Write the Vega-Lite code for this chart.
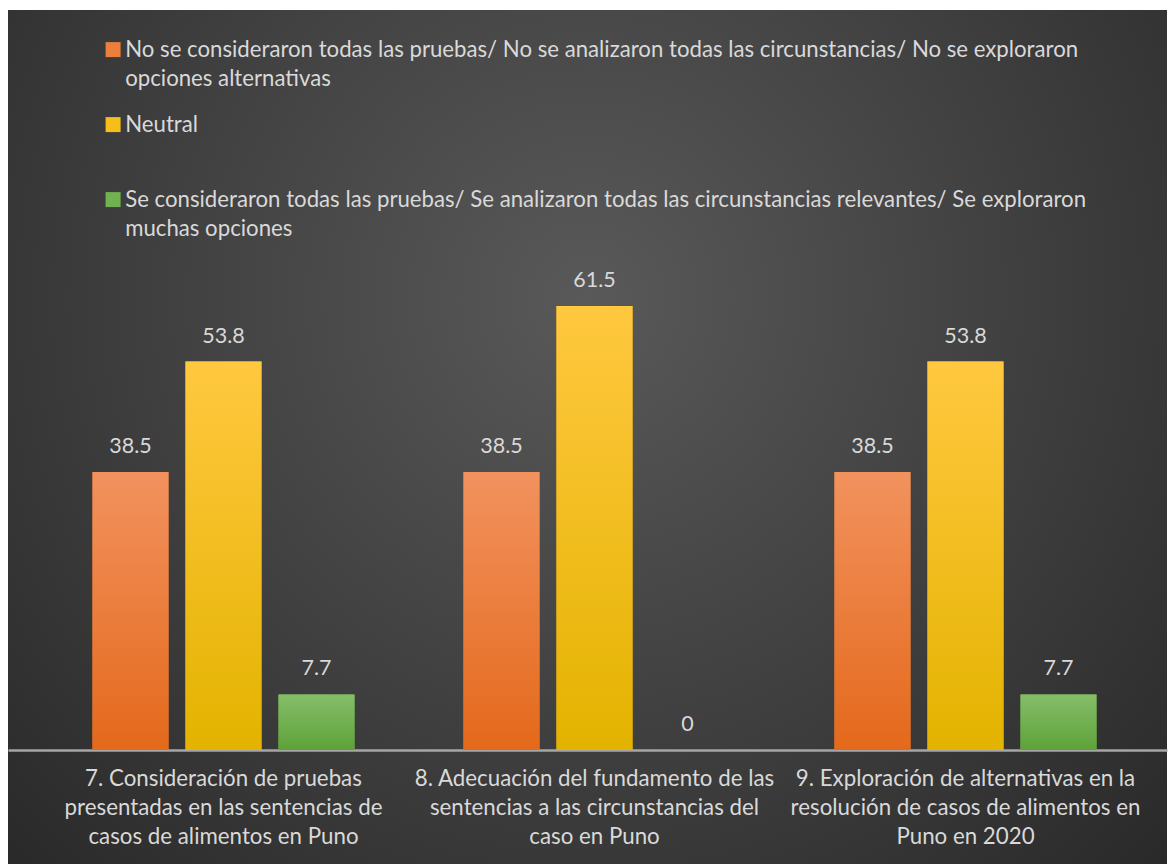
{
  "$schema": "https://vega.github.io/schema/vega-lite/v6.json",
  "width": 1159,
  "height": 854,
  "autosize": {"type": "none"},
  "padding": {"left": 8, "top": 10, "right": 2, "bottom": 0},
  "background": "#FFFFFF",
  "config": {
    "view": {
      "stroke": null,
      "fill": {
        "gradient": "radial",
        "x1": 0.5, "y1": 0.38, "r1": 0,
        "x2": 0.5, "y2": 0.38, "r2": 0.75,
        "stops": [
          {"offset": 0, "color": "#595959"},
          {"offset": 1, "color": "#262626"}
        ]
      }
    }
  },
  "data": {
    "values": [
      {"cat": "7. Consideración de pruebas presentadas en las sentencias de casos de alimentos en Puno", "serie": "No se consideraron todas las pruebas/ No se analizaron todas las circunstancias/ No se exploraron opciones alternativas", "valor": 38.5},
      {"cat": "7. Consideración de pruebas presentadas en las sentencias de casos de alimentos en Puno", "serie": "Neutral", "valor": 53.8},
      {"cat": "7. Consideración de pruebas presentadas en las sentencias de casos de alimentos en Puno", "serie": "Se consideraron todas las pruebas/ Se analizaron todas las circunstancias relevantes/ Se exploraron muchas opciones", "valor": 7.7},
      {"cat": "8. Adecuación del fundamento de las sentencias a las circunstancias del caso en Puno", "serie": "No se consideraron todas las pruebas/ No se analizaron todas las circunstancias/ No se exploraron opciones alternativas", "valor": 38.5},
      {"cat": "8. Adecuación del fundamento de las sentencias a las circunstancias del caso en Puno", "serie": "Neutral", "valor": 61.5},
      {"cat": "8. Adecuación del fundamento de las sentencias a las circunstancias del caso en Puno", "serie": "Se consideraron todas las pruebas/ Se analizaron todas las circunstancias relevantes/ Se exploraron muchas opciones", "valor": 0},
      {"cat": "9. Exploración de alternativas en la resolución de casos de alimentos en Puno en 2020", "serie": "No se consideraron todas las pruebas/ No se analizaron todas las circunstancias/ No se exploraron opciones alternativas", "valor": 38.5},
      {"cat": "9. Exploración de alternativas en la resolución de casos de alimentos en Puno en 2020", "serie": "Neutral", "valor": 53.8},
      {"cat": "9. Exploración de alternativas en la resolución de casos de alimentos en Puno en 2020", "serie": "Se consideraron todas las pruebas/ Se analizaron todas las circunstancias relevantes/ Se exploraron muchas opciones", "valor": 7.7}
    ]
  },
  "layer": [
    {
      "mark": {"type": "bar"},
      "encoding": {
        "x": {
          "field": "cat",
          "type": "nominal",
          "sort": null,
          "scale": {"paddingInner": 0, "paddingOuter": 0.062, "align": 0.652},
          "axis": {
            "title": null,
            "domain": true,
            "domainColor": "#A6A6A6",
            "domainWidth": 2.5,
            "ticks": false,
            "labelAngle": 0,
            "labelFont": "Lato",
            "labelFontSize": 22.3,
            "labelColor": "#D9D9D9",
            "labelLineHeight": 29,
            "labelBaseline": "top",
            "labelPadding": 17,
            "labelLimit": 400,
            "labelOverlap": false,
            "offset": -114,
            "labelExpr": "slice(datum.value,0,2) == '7.' ? ['7. Consideración de pruebas', 'presentadas en las sentencias de', 'casos de alimentos en Puno'] : slice(datum.value,0,2) == '8.' ? ['8. Adecuación del fundamento de las', 'sentencias a las circunstancias del', 'caso en Puno'] : ['9. Exploración de alternativas en la', 'resolución de casos de alimentos en', 'Puno en 2020']"
          }
        },
        "xOffset": {
          "field": "serie",
          "type": "nominal",
          "sort": null,
          "scale": {"paddingInner": 0.183, "paddingOuter": 0.586}
        },
        "y": {
          "field": "valor",
          "type": "quantitative",
          "scale": {"domain": [-15.79, 102.49], "nice": false, "zero": false},
          "axis": null
        },
        "color": {
          "field": "serie",
          "type": "nominal",
          "sort": null,
          "scale": {"range": ["#EC7F3C", "#F5BE1A", "#72B14F"]},
          "legend": {
            "title": null,
            "orient": "none",
            "legendX": 94,
            "legendY": 28.5,
            "padding": 0,
            "symbolType": "square",
            "symbolSize": 225,
            "symbolStrokeWidth": 0,
            "labelFont": "Lato",
            "labelFontSize": 22.2,
            "labelColor": "#D9D9D9",
            "labelLimit": 1100,
            "labelOffset": 1,
            "labelBaseline": "middle",
            "rowPadding": 23,
            "labelExpr": "datum.label == 'Neutral' ? ['Neutral', ''] : [slice(datum.label, 0, indexof(datum.label, 'exploraron ') + 10), slice(datum.label, indexof(datum.label, 'exploraron ') + 11)]",
            "encoding": {"labels": {"lineHeight": {"value": 29}}}
          }
        }
      }
    },
    {
      "transform": [{"filter": "datum.serie == 'No se consideraron todas las pruebas/ No se analizaron todas las circunstancias/ No se exploraron opciones alternativas'"}],
      "mark": {
        "type": "bar",
        "color": {"gradient": "linear", "x1": 0, "y1": 0, "x2": 0, "y2": 1, "stops": [{"offset": 0, "color": "#F2925E"}, {"offset": 1, "color": "#E4691B"}]}
      },
      "encoding": {
        "x": {"field": "cat", "type": "nominal", "sort": null},
        "xOffset": {"field": "serie", "type": "nominal", "sort": null},
        "y": {"field": "valor", "type": "quantitative"}
      }
    },
    {
      "transform": [{"filter": "datum.serie == 'Neutral'"}],
      "mark": {
        "type": "bar",
        "color": {"gradient": "linear", "x1": 0, "y1": 0, "x2": 0, "y2": 1, "stops": [{"offset": 0, "color": "#FFC83F"}, {"offset": 1, "color": "#E3B300"}]}
      },
      "encoding": {
        "x": {"field": "cat", "type": "nominal", "sort": null},
        "xOffset": {"field": "serie", "type": "nominal", "sort": null},
        "y": {"field": "valor", "type": "quantitative"}
      }
    },
    {
      "transform": [{"filter": "datum.serie == 'Se consideraron todas las pruebas/ Se analizaron todas las circunstancias relevantes/ Se exploraron muchas opciones'"}],
      "mark": {
        "type": "bar",
        "color": {"gradient": "linear", "x1": 0, "y1": 0, "x2": 0, "y2": 1, "stops": [{"offset": 0, "color": "#86BD6A"}, {"offset": 1, "color": "#5EA238"}]}
      },
      "encoding": {
        "x": {"field": "cat", "type": "nominal", "sort": null},
        "xOffset": {"field": "serie", "type": "nominal", "sort": null},
        "y": {"field": "valor", "type": "quantitative"}
      }
    },
    {
      "mark": {"type": "text", "dy": -25, "fontSize": 21.5, "font": "Lato", "color": "#D9D9D9", "baseline": "middle"},
      "encoding": {
        "x": {"field": "cat", "type": "nominal", "sort": null},
        "xOffset": {"field": "serie", "type": "nominal", "sort": null},
        "y": {"field": "valor", "type": "quantitative"},
        "text": {"field": "valor", "type": "quantitative", "format": ".1~f"}
      }
    }
  ]
}
